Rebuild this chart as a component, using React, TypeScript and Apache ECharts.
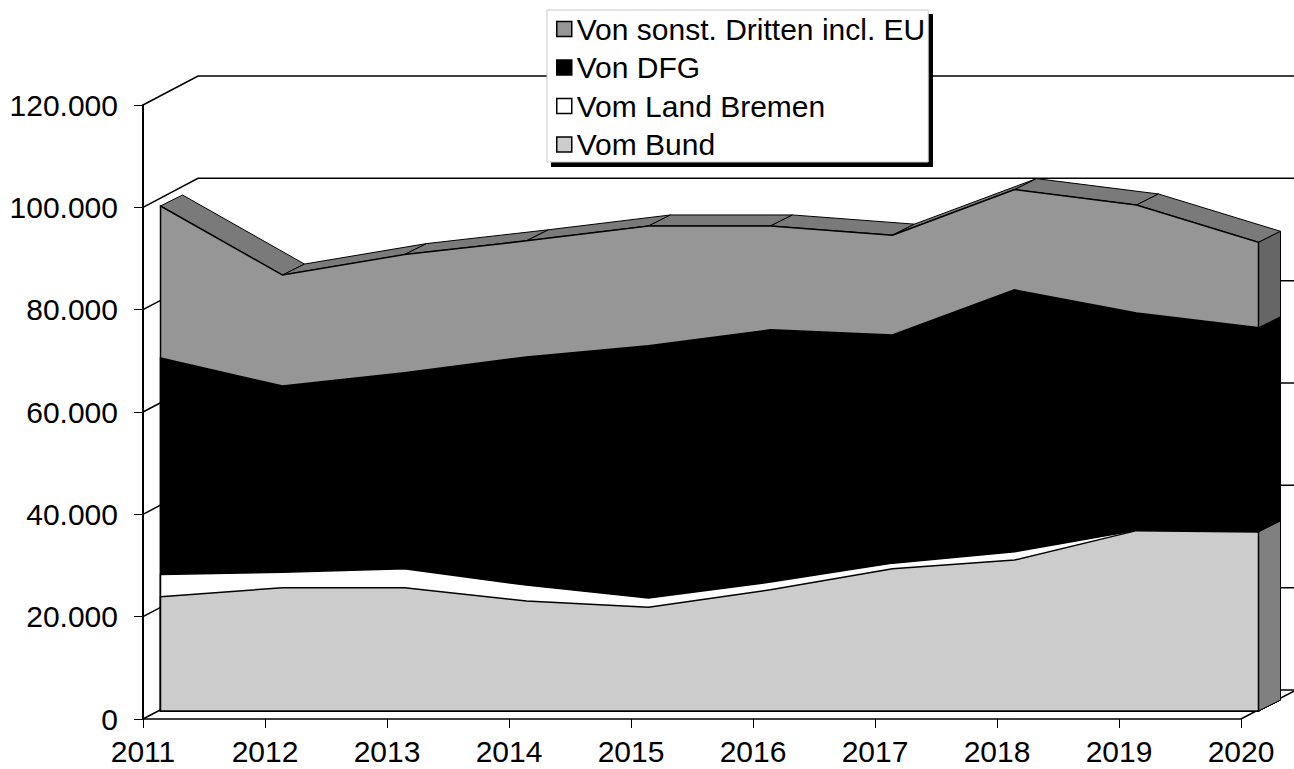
import React, { useEffect, useRef } from "react";
import * as echarts from "echarts";

const years = ["2011", "2012", "2013", "2014", "2015", "2016", "2017", "2018", "2019", "2020"];
const vomBund = [22350, 24100, 24100, 21500, 20300, 23700, 27800, 29500, 35250, 35000];
const vomLand = [4350, 3000, 3700, 3100, 1800, 1500, 1100, 1600, 50, 0];
const vonDfg = [42300, 36400, 38300, 44600, 49300, 49300, 44600, 51200, 42500, 39900];
const vonDritten = [29700, 21700, 23100, 22700, 23400, 20300, 19500, 19600, 21100, 16700];
const wallLevels = [0, 20000, 40000, 60000, 80000, 100000, 120000];

const FRONT: [number, number] = [17.5, -8];
const DEPTH: [number, number] = [22, -11];
const WALL: [number, number] = [55, -29];

const layers = [
  { name: "Von sonst. Dritten incl. EU", values: vonDritten, fill: "#969696", side: "#666666", top: "#7a7a7a" },
  { name: "Von DFG", values: vonDfg, fill: "#000000", side: "#000000", top: "#000000" },
  { name: "Vom Land Bremen", values: vomLand, fill: "#ffffff", side: "#808080", top: "#ffffff" },
  { name: "Vom Bund", values: vomBund, fill: "#cccccc", side: "#808080", top: "#cccccc" },
];

// Stack heights: each layer reaches from the floor up to its cumulative top.
const cumulative = layers.map((_, k) =>
  years.map((_, i) => layers.slice(k).reduce((sum, l) => sum + l.values[i], 0))
);

const shift = (p: number[], d: number[]) => [p[0] + d[0], p[1] + d[1]];

export default function App() {
  const ref = useRef<HTMLDivElement>(null);

  useEffect(() => {
    const chart = echarts.init(ref.current!, null, { renderer: "svg" });
    const n = years.length;

    const layerSeries = layers.map((layer, k) => ({
      type: "custom",
      name: layer.name,
      itemStyle: { color: layer.fill },
      silent: true,
      clip: false,
      encode: { x: 0, y: 1 },
      data: cumulative[k].map((v, i) => [i, v]),
      renderItem: (params: any, api: any) => {
        const i = params.dataIndex;
        const top = (idx: number) => shift(api.coord([idx, cumulative[k][idx]]), FRONT);
        const floor = (idx: number) => shift(api.coord([idx, 0]), FRONT);
        if (i < n - 1) {
          if (k !== 0) return null;
          const a = top(i);
          const b = top(i + 1);
          return {
            type: "polygon",
            shape: { points: [a, b, shift(b, DEPTH), shift(a, DEPTH)] },
            style: { fill: layer.top, stroke: "#000", lineWidth: 1 },
          };
        }
        const pts: number[][] = [];
        for (let j = 0; j < n; j++) pts.push(top(j));
        pts.push(floor(n - 1), floor(0));
        const t = top(n - 1);
        const f = floor(n - 1);
        return {
          type: "group",
          children: [
            {
              type: "polygon",
              shape: { points: [t, shift(t, DEPTH), shift(f, DEPTH), f] },
              style: { fill: layer.side, stroke: "#000", lineWidth: 1 },
            },
            {
              type: "polygon",
              shape: { points: pts },
              style: { fill: layer.fill, stroke: "#000", lineWidth: 1.5 },
            },
          ],
        };
      },
    }));

    chart.setOption({
      animation: false,
      backgroundColor: "#fff",
      grid: { left: 143, top: 105, width: 1098, height: 614, containLabel: false },
      xAxis: {
        type: "category",
        boundaryGap: false,
        data: years,
        axisLine: { lineStyle: { color: "#000", width: 1.5 } },
        axisTick: { length: 9, lineStyle: { color: "#000", width: 1 } },
        axisLabel: { interval: 0, color: "#000", fontFamily: "Liberation Sans", fontSize: 30, margin: 17 },
        splitLine: { show: false },
      },
      yAxis: {
        type: "value",
        min: 0,
        max: 120000,
        interval: 20000,
        axisLine: { show: true, lineStyle: { color: "#000", width: 2 } },
        axisTick: { show: true, length: 9, lineStyle: { color: "#000", width: 1 } },
        axisLabel: {
          color: "#000",
          fontFamily: "Liberation Sans",
          fontSize: 30,
          margin: 25,
          formatter: (v: number) => String(v).replace(/\B(?=(\d{3})+$)/g, "."),
        },
        splitLine: { show: false },
      },
      legend: {
        orient: "vertical",
        left: 547,
        top: 10,
        padding: [4, 3, 2.5, 9],
        itemGap: 8.5,
        itemWidth: 15,
        itemHeight: 15,
        icon: "rect",
        backgroundColor: "#fff",
        borderColor: "#c8c8c8",
        borderWidth: 1,
        textStyle: { color: "#000", fontFamily: "Liberation Sans", fontSize: 30 },
        data: layers.map((l) => ({
          name: l.name,
          itemStyle: { color: l.fill, borderColor: "#000", borderWidth: 1.5 },
        })),
        selectedMode: false,
      },
      graphic: [
        {
          type: "rect",
          z: 3,
          silent: true,
          shape: { x: 551, y: 14, width: 382, height: 153 },
          style: { fill: "#000" },
        },
      ],
      series: [
        {
          type: "custom",
          name: "Wand",
          silent: true,
          clip: false,
          encode: { x: 0, y: 1 },
          data: wallLevels.map((v) => [0, v]),
          renderItem: (params: any, api: any) => {
            const level = wallLevels[params.dataIndex];
            const a = api.coord([0, level]);
            const b = shift(a, WALL);
            const end = api.coord([n - 1, level]);
            const floorEdge = level === 0 ? [[end[0], end[1]], shift(end, WALL)] : null;
            return {
              type: "group",
              children: [
                {
                  type: "polyline",
                  shape: { points: [a, b, [end[0] + 200, b[1]]] },
                  style: { fill: "none", stroke: "#000", lineWidth: 1.5 },
                },
                ...(floorEdge
                  ? [{
                      type: "polyline",
                      shape: { points: floorEdge },
                      style: { fill: "none", stroke: "#000", lineWidth: 1.5 },
                    }]
                  : []),
              ],
            };
          },
        },
        ...layerSeries,
      ],
    });

    return () => chart.dispose();
  }, []);

  return <div ref={ref} style={{ position: "absolute", left: 0, top: 0, width: 1294, height: 769 }} />;
}
